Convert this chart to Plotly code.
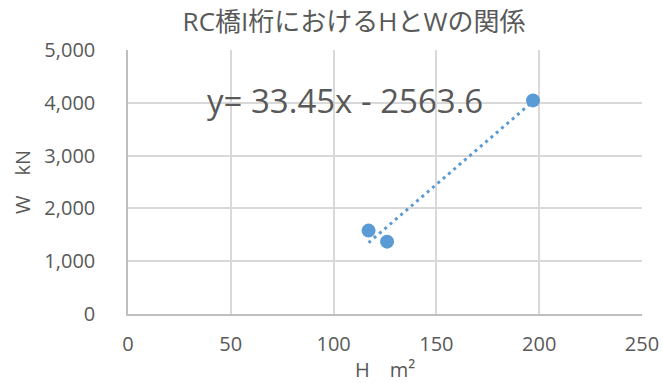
import plotly.graph_objects as go

# Measured data: deck area H (m²) vs weight W (kN)
h_values = [117, 126, 197]
w_values = [1580, 1370, 4045]

# Linear trendline as stated in the equation label
slope = 33.45
intercept = -2563.6
equation_label = "y= 33.45x - 2563.6"

title_text = "RC橋I桁におけるHとWの関係"
x_title = "H　m²"
y_title = "W　kN"

x_ticks = [0, 50, 100, 150, 200, 250]
y_ticks = [0, 1000, 2000, 3000, 4000, 5000]

blue = "#5B9BD5"
text_gray = "#595959"
grid_gray = "#D9D9D9"
font_family = "Open Sans, Noto Sans CJK JP, sans-serif"

trend_x = [min(h_values), max(h_values)]
trend_y = [slope * x + intercept for x in trend_x]

fig = go.Figure()
fig.add_trace(go.Scatter(
    x=trend_x, y=trend_y, mode="lines",
    line=dict(color=blue, width=3, dash="3px,4px"),
    hoverinfo="skip", showlegend=False,
))
fig.add_trace(go.Scatter(
    x=h_values, y=w_values, mode="markers",
    marker=dict(color=blue, size=14),
    showlegend=False,
))

fig.add_annotation(
    x=105.5, y=4050, xref="x", yref="y",
    text=equation_label, showarrow=False,
    font=dict(family=font_family, size=33, color=text_gray),
)

fig.update_layout(
    width=663, height=383,
    margin=dict(l=128, r=21, t=50, b=69),
    paper_bgcolor="white", plot_bgcolor="white",
    font=dict(family=font_family, color=text_gray),
    title=dict(text=title_text, x=0.534, xanchor="center", y=0.943, yanchor="middle",
               font=dict(family=font_family, size=26, color=text_gray)),
)

fig.update_xaxes(
    range=[0, 250], tickvals=x_ticks, ticktext=[f"{v:,}" for v in x_ticks],
    showgrid=True, gridcolor=grid_gray, gridwidth=1.5,
    showline=True, linecolor="#BFBFBF", linewidth=1.5, mirror=False,
    zeroline=False, ticks="", ticklabelstandoff=11, automargin=False,
    tickfont=dict(family=font_family, size=20, color=text_gray),
    title=dict(text=x_title, standoff=10, font=dict(family=font_family, size=20, color=text_gray)),
)
fig.update_yaxes(
    range=[0, 5000], tickvals=y_ticks, ticktext=[f"{v:,}" for v in y_ticks],
    showgrid=True, gridcolor=grid_gray, gridwidth=1.5,
    showline=True, linecolor="#BFBFBF", linewidth=1.5,
    zeroline=False, ticks="", ticklabelstandoff=27, automargin=False,
    tickfont=dict(family=font_family, size=20, color=text_gray),
    title=dict(text=y_title, standoff=8, font=dict(family=font_family, size=20, color=text_gray)),
)

fig.write_html("out.html")
